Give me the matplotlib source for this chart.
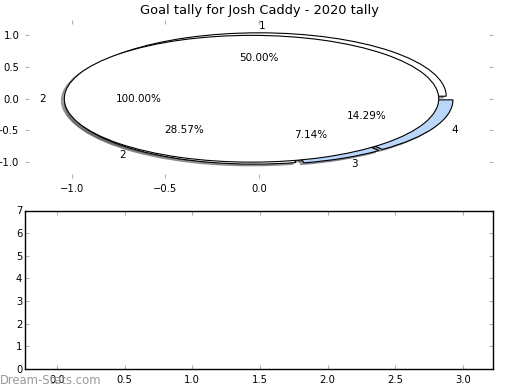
import matplotlib
matplotlib.use('Agg')
import matplotlib.pyplot as plt

## values
title = 'Goal tally for Josh Caddy - 2020 tally'
half_vals = [0.5]
half_labels = ['1']
part_vals = [0.2857, 0.0714, 0.1429]
part_labels = ['2', '3', '4']
full_vals = [1.0]
full_labels = ['2']

blue = '#bad6fa'
tick_gray = '#b0b0b0'

plt.rcParams['font.family'] = 'DejaVu Sans'
fig = plt.figure(figsize=(5.2, 3.9), dpi=100)

ax1 = fig.add_axes([25/520, 1 - 178/390, 468/520, 158.5/390])
ax2 = fig.add_axes([25/520, 1 - 369/390, 468/520, 158.5/390])

wp = {'edgecolor': 'black', 'linewidth': 0.8}
tp = {'fontsize': 7.5}
shad = {'ox': -0.011, 'oy': -0.02}

# overlapping pies, drawn in this order so the full one sits on top
ax1.pie(part_vals, labels=part_labels, colors=['white', blue, blue],
        explode=[0.04] * len(part_vals), startangle=180, normalize=False,
        autopct='%.2f%%', shadow=shad, wedgeprops=wp, textprops=tp)
_, half_txt, _ = ax1.pie(half_vals, labels=half_labels, colors=['white'],
                         explode=[0.04], normalize=False,
                         autopct='%.2f%%', shadow=shad, wedgeprops=wp,
                         textprops=tp)
half_txt[0].set_horizontalalignment('left')
ax1.pie(full_vals, labels=full_labels, colors=['white'],
        explode=[0.04], normalize=False,
        autopct='%.2f%%', shadow=shad, wedgeprops=wp, textprops=tp)

ax1.set_aspect('auto')
ax1.set_xlim(-1.25, 1.25)
ax1.set_ylim(-1.25, 1.25)
ax1.set_xticks([-1.0, -0.5, 0.0])
ax1.set_yticks([-1.0, -0.5, 0.0, 0.5, 1.0])
ax1.set_title(title, fontsize=9.4, pad=4)

ax2.set_xlim(-0.236, 3.222)
ax2.set_ylim(0, 7)
ax2.set_xticks([0.0, 0.5, 1.0, 1.5, 2.0, 2.5, 3.0])
ax2.set_yticks(range(0, 8))
for s in ax2.spines.values():
    s.set_linewidth(1.0)

for ax in (ax1, ax2):
    ax.tick_params(direction='in', length=3, width=0.8, color=tick_gray,
                   labelsize=7.2, top=True, right=True, pad=4)
ax2.tick_params(axis='y', pad=2)

fig.text(0.0, 1 - 380/390, 'Dream-Stats.com', fontsize=8.4, color='#9a9a9a',
         ha='left', va='center')

fig.savefig('out.png', dpi=100)
